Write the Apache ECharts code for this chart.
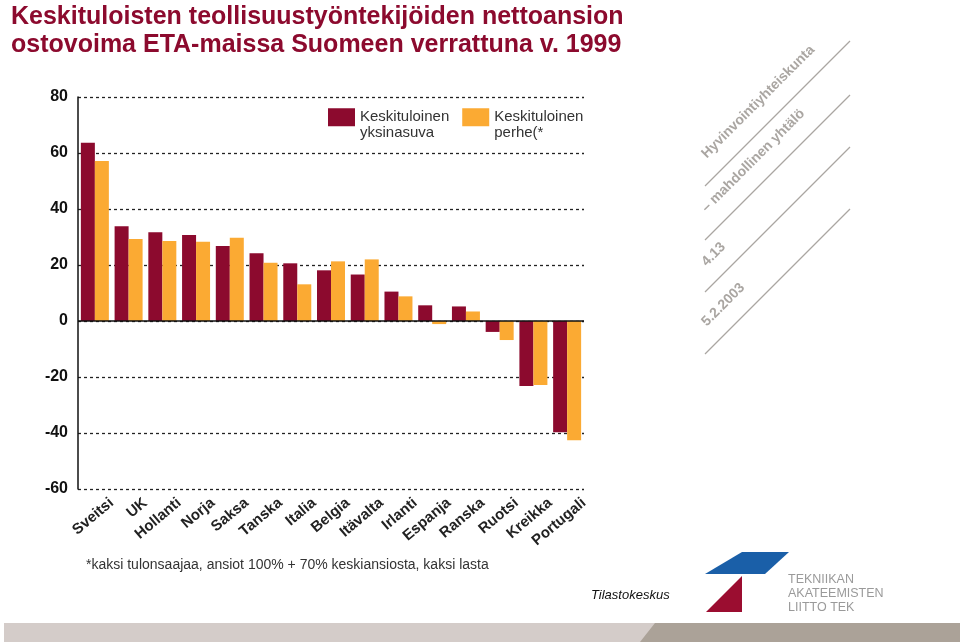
<!DOCTYPE html>
<html>
<head>
<meta charset="utf-8">
<script src="https://cdn.jsdelivr.net/npm/echarts@6/dist/echarts.min.js"></script>
<style>
html,body{margin:0;padding:0;background:#fff;}
#chart{width:960px;height:642px;}
</style>
</head>
<body>
<div id="chart"></div>
<script>
var countries = ['Sveitsi','UK','Hollanti','Norja','Saksa','Tanska','Italia','Belgia','Itävalta','Irlanti','Espanja','Ranska','Ruotsi','Kreikka','Portugali'];
var single = [63.7, 33.8, 31.7, 30.7, 26.8, 24.2, 20.6, 18.1, 16.6, 10.5, 5.6, 5.2, -3.9, -23.2, -39.7];
var family = [57.1, 29.3, 28.6, 28.3, 29.7, 20.8, 13.1, 21.3, 22.0, 8.8, -1.1, 3.4, -6.8, -22.9, -42.6];
var yTicks = [-60, -40, -20, 0, 20, 40, 60, 80];
var seriesNames = ['Keskituloinen\nyksinasuva', 'Keskituloinen\nperhe(*'];

var chart = echarts.init(document.getElementById('chart'), null, {renderer: 'canvas'});
var grid = {left: 78, right: 376, top: 97, bottom: 153};
var dark = '#8c0a2e', orange = '#fbaa33';
var FF = '"Liberation Sans", Arial, sans-serif';

var wmColor = '#aaa6a2';
var graphics = [];
[[705,186,850,41],[705,240,850,95],[705,292,850,147],[705,354,850,209]].forEach(function(l){
  graphics.push({type:'line', shape:{x1:l[0],y1:l[1],x2:l[2],y2:l[3]}, style:{stroke:wmColor, lineWidth:1.2}, silent:true});
});
[['Hyvinvointiyhteiskunta',709,161],['– mahdollinen yhtälö',709,215],['4.13',709,269],['5.2.2003',709,329]].forEach(function(t){
  graphics.push({type:'text', x:t[1], y:t[2], rotation:Math.PI/4, style:{text:t[0], fill:wmColor, fontSize:14, fontWeight:'bold', fontFamily:FF, align:'left', verticalAlign:'bottom'}, silent:true});
});
graphics.push({type:'text', x:86, y:565, style:{text:'*kaksi tulonsaajaa, ansiot 100% + 70% keskiansiosta, kaksi lasta', fill:'#333', fontSize:14, fontFamily:FF, verticalAlign:'middle'}});
graphics.push({type:'text', x:591, y:595, style:{text:'Tilastokeskus', fill:'#111', fontSize:13, fontStyle:'italic', fontFamily:FF, verticalAlign:'middle'}});
graphics.push({type:'polygon', shape:{points:[[742,552],[789,552],[765,574],[705,574]]}, style:{fill:'#1a5fa8'}});
graphics.push({type:'polygon', shape:{points:[[742,576],[742,612],[706,612]]}, style:{fill:'#9b0d30'}});
graphics.push({type:'text', x:788, y:573, style:{text:'TEKNIIKAN\nAKATEEMISTEN\nLIITTO TEK', fill:'#9a9a9a', fontSize:12.5, fontFamily:FF, lineHeight:14, verticalAlign:'top'}});
graphics.push({type:'rect', shape:{x:4,y:623,width:660,height:19}, style:{fill:'#d4ccc9'}});
graphics.push({type:'polygon', shape:{points:[[655,623],[960,623],[960,642],[640,642]]}, style:{fill:'#aba298'}});

var option = {
  backgroundColor: '#fff',
  animation: false,
  title: {
    text: 'Keskituloisten teollisuustyöntekijöiden nettoansion\nostovoima ETA-maissa Suomeen verrattuna v. 1999',
    left: 6, top: -2,
    textStyle: {color: '#8c0a2e', fontSize: 25, fontWeight: 'bold', fontFamily: FF, lineHeight: 28}
  },
  legend: {
    left: 328, top: 94, padding: 0,
    icon: 'rect',
    itemWidth: 27, itemHeight: 18, itemGap: 13,
    data: seriesNames,
    formatter: function(n){ return '\n' + n; },
    textStyle: {fontSize: 15, color: '#333', fontFamily: FF, lineHeight: 15.5},
    selectedMode: false
  },
  grid: grid,
  xAxis: [{
    type: 'category', data: countries,
    axisLine: {show: false}, axisTick: {show: false}, axisLabel: {show: false},
    splitLine: {show: false}
  }, {
    type: 'value', min: 0, max: countries.length, interval: 1,
    position: 'bottom',
    axisLine: {show: false, onZero: false}, axisTick: {show: false}, splitLine: {show: false},
    axisLabel: {
      rotate: 40, margin: 12, color: '#222', fontSize: 15, fontWeight: 'bold',
      fontFamily: FF,
      formatter: function(v){ return v >= 1 ? countries[v-1] : ''; }
    }
  }],
  yAxis: {
    type: 'value', min: yTicks[0], max: yTicks[yTicks.length-1], interval: 20,
    axisLine: {show: true, lineStyle: {color: '#111', width: 1.5}},
    axisTick: {show: false},
    axisLabel: {color: '#111', fontSize: 16, fontWeight: 'bold', margin: 10, fontFamily: FF},
    splitLine: {show: true, lineStyle: {color: '#222', type: [3, 3], width: 1.3}}
  },
  series: [{
    name: seriesNames[0], type: 'bar', data: single, xAxisIndex: 0,
    itemStyle: {color: dark}, barGap: '0%', barCategoryGap: '17%',
    markLine: {silent: true, symbol: 'none', label: {show: false},
      lineStyle: {color: '#111', type: 'solid', width: 1.5},
      data: [{yAxis: 0}]}
  }, {
    name: seriesNames[1], type: 'bar', data: family, xAxisIndex: 0,
    itemStyle: {color: orange}, barGap: '0%', barCategoryGap: '17%'
  }],
  graphic: graphics
};
chart.setOption(option);
</script>
</body>
</html>
